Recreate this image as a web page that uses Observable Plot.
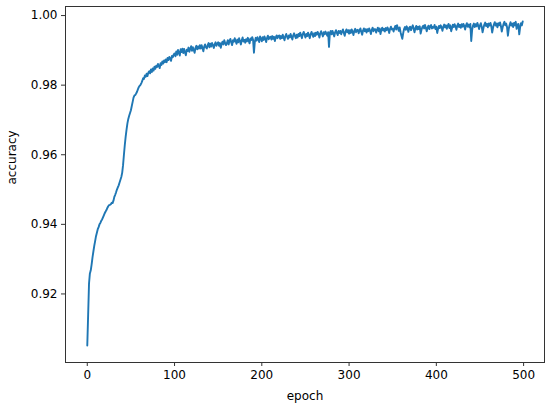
<!DOCTYPE html>
<html>
<head>
<meta charset="utf-8">
<script src="https://cdn.jsdelivr.net/npm/d3@7"></script>
<script src="https://cdn.jsdelivr.net/npm/@observablehq/plot@0.6"></script>
<style>
  html, body { margin: 0; padding: 0; background: #fff; }
  #chart svg { display: block; }
</style>
</head>
<body>
<div id="chart"></div>
<script>
// accuracy per epoch (epochs 0..499)
const accuracy = [
  0.9052, 0.9140, 0.9230, 0.9259, 0.9268, 0.9285, 0.9305, 0.9322, 0.9338, 0.9352,
  0.9366, 0.9376, 0.9386, 0.9392, 0.9400, 0.9404, 0.9410, 0.9414, 0.9420, 0.9426,
  0.9432, 0.9437, 0.9441, 0.9447, 0.9452, 0.9455, 0.9456, 0.9458, 0.9462, 0.9461,
  0.9468, 0.9479, 0.9485, 0.9492, 0.9500, 0.9506, 0.9512, 0.9520, 0.9528, 0.9536,
  0.9548, 0.9570, 0.9600, 0.9628, 0.9652, 0.9672, 0.9690, 0.9703, 0.9712, 0.9720,
  0.9728, 0.9740, 0.9752, 0.9764, 0.9770, 0.9772, 0.9776, 0.9781, 0.9788, 0.9794,
  0.9798, 0.9801, 0.9806, 0.9812, 0.9820, 0.9818, 0.9828, 0.9824, 0.9833, 0.9826,
  0.9836, 0.9840, 0.9834, 0.9845, 0.9838, 0.9848, 0.9842, 0.9853, 0.9847, 0.9856,
  0.9852, 0.9861, 0.9855, 0.9849, 0.9863, 0.9858, 0.9868, 0.9862, 0.9871, 0.9866,
  0.9874, 0.9866, 0.9878, 0.9872, 0.9881, 0.9876, 0.9870, 0.9884, 0.9880, 0.9888,
  0.9891, 0.9883, 0.9897, 0.9887, 0.9901, 0.9893, 0.9885, 0.9903, 0.9895, 0.9905,
  0.9892, 0.9904, 0.9894, 0.9886, 0.9902, 0.9898, 0.9908, 0.9896, 0.9904, 0.9912,
  0.9899, 0.9909, 0.9901, 0.9893, 0.9907, 0.9913, 0.9903, 0.9911, 0.9905, 0.9915,
  0.9905, 0.9915, 0.9907, 0.9897, 0.9911, 0.9917, 0.9909, 0.9905, 0.9915, 0.9921,
  0.9909, 0.9919, 0.9911, 0.9921, 0.9915, 0.9907, 0.9917, 0.9923, 0.9913, 0.9919,
  0.9923, 0.9913, 0.9921, 0.9907, 0.9919, 0.9925, 0.9917, 0.9929, 0.9921, 0.9915,
  0.9921, 0.9929, 0.9917, 0.9927, 0.9933, 0.9923, 0.9915, 0.9929, 0.9925, 0.9935,
  0.9927, 0.9919, 0.9931, 0.9923, 0.9935, 0.9927, 0.9917, 0.9929, 0.9937, 0.9925,
  0.9930, 0.9922, 0.9932, 0.9926, 0.9936, 0.9928, 0.9920, 0.9934, 0.9930, 0.9938,
  0.9930, 0.9893, 0.9924, 0.9936, 0.9928, 0.9938, 0.9932, 0.9924, 0.9940, 0.9934,
  0.9926, 0.9938, 0.9930, 0.9940, 0.9934, 0.9924, 0.9936, 0.9942, 0.9932, 0.9938,
  0.9939, 0.9931, 0.9941, 0.9933, 0.9939, 0.9927, 0.9937, 0.9943, 0.9935, 0.9941,
  0.9943, 0.9933, 0.9941, 0.9935, 0.9945, 0.9937, 0.9929, 0.9941, 0.9947, 0.9939,
  0.9933, 0.9943, 0.9937, 0.9947, 0.9939, 0.9931, 0.9943, 0.9949, 0.9941, 0.9935,
  0.9945, 0.9937, 0.9947, 0.9941, 0.9951, 0.9943, 0.9935, 0.9947, 0.9953, 0.9945,
  0.9937, 0.9947, 0.9941, 0.9951, 0.9943, 0.9935, 0.9947, 0.9953, 0.9945, 0.9939,
  0.9949, 0.9941, 0.9951, 0.9945, 0.9953, 0.9947, 0.9937, 0.9949, 0.9955, 0.9947,
  0.9940, 0.9952, 0.9946, 0.9954, 0.9948, 0.9942, 0.9952, 0.9910, 0.9950, 0.9956,
  0.9946, 0.9956, 0.9948, 0.9940, 0.9952, 0.9958, 0.9950, 0.9944, 0.9956, 0.9950,
  0.9956, 0.9946, 0.9954, 0.9960, 0.9950, 0.9942, 0.9954, 0.9960, 0.9952, 0.9958,
  0.9948, 0.9958, 0.9950, 0.9960, 0.9954, 0.9944, 0.9956, 0.9962, 0.9952, 0.9958,
  0.9959, 0.9949, 0.9957, 0.9963, 0.9953, 0.9945, 0.9957, 0.9963, 0.9955, 0.9961,
  0.9951, 0.9961, 0.9955, 0.9963, 0.9957, 0.9947, 0.9959, 0.9965, 0.9955, 0.9961,
  0.9961, 0.9951, 0.9959, 0.9965, 0.9955, 0.9963, 0.9947, 0.9959, 0.9965, 0.9957,
  0.9962, 0.9954, 0.9964, 0.9958, 0.9966, 0.9960, 0.9950, 0.9962, 0.9968, 0.9960,
  0.9962, 0.9954, 0.9964, 0.9970, 0.9960, 0.9972, 0.9964, 0.9956, 0.9966, 0.9952,
  0.9942, 0.9933, 0.9949, 0.9961, 0.9967, 0.9959, 0.9969, 0.9963, 0.9953, 0.9965,
  0.9968, 0.9958, 0.9966, 0.9972, 0.9962, 0.9952, 0.9964, 0.9970, 0.9960, 0.9968,
  0.9961, 0.9969, 0.9948, 0.9959, 0.9967, 0.9971, 0.9963, 0.9973, 0.9965, 0.9955,
  0.9965, 0.9971, 0.9961, 0.9969, 0.9973, 0.9963, 0.9967, 0.9965, 0.9973, 0.9961,
  0.9968, 0.9950, 0.9962, 0.9970, 0.9964, 0.9972, 0.9966, 0.9956, 0.9968, 0.9974,
  0.9966, 0.9972, 0.9962, 0.9970, 0.9976, 0.9964, 0.9972, 0.9955, 0.9964, 0.9974,
  0.9967, 0.9975, 0.9969, 0.9959, 0.9971, 0.9977, 0.9967, 0.9973, 0.9965, 0.9975,
  0.9968, 0.9976, 0.9970, 0.9960, 0.9972, 0.9978, 0.9968, 0.9974, 0.9966, 0.9976,
  0.9927, 0.9958, 0.9971, 0.9977, 0.9967, 0.9975, 0.9969, 0.9979, 0.9971, 0.9961,
  0.9972, 0.9978, 0.9968, 0.9952, 0.9964, 0.9974, 0.9980, 0.9970, 0.9976, 0.9966,
  0.9977, 0.9971, 0.9979, 0.9969, 0.9951, 0.9965, 0.9975, 0.9981, 0.9971, 0.9977,
  0.9966, 0.9978, 0.9972, 0.9980, 0.9970, 0.9954, 0.9966, 0.9976, 0.9982, 0.9972,
  0.9977, 0.9967, 0.9942, 0.9962, 0.9973, 0.9981, 0.9971, 0.9977, 0.9967, 0.9979,
  0.9972, 0.9982, 0.9962, 0.9974, 0.9976, 0.9946, 0.9966, 0.9978, 0.9972, 0.9983
];
const epochs = accuracy.map((_, i) => i);
const xTicks = [0, 100, 200, 300, 400, 500];
const yTicks = [0.92, 0.94, 0.96, 0.98, 1.00];
const xLabel = "epoch";
const yLabel = "accuracy";

const data = epochs.map((e, i) => ({epoch: e, accuracy: accuracy[i]}));

const chart = Plot.plot({
  width: 550,
  height: 409,
  marginLeft: 65,
  marginRight: 6,
  marginTop: 6,
  marginBottom: 47,
  style: {fontFamily: "DejaVu Sans", fontSize: "12px", color: "#000", background: "#fff"},
  x: {domain: [-24.95, 523.95]},
  y: {domain: [0.9003, 1.0026]},
  marks: [
    Plot.axisX(xTicks, {tickSize: 4, tickPadding: 4, fontSize: 12, label: null, stroke: "#333"}),
    Plot.axisY(yTicks, {tickSize: 4, tickPadding: 4, fontSize: 12, label: null, tickFormat: d3.format(".2f"), stroke: "#333"}),
    Plot.line(data, {x: "epoch", y: "accuracy", stroke: "#1f77b4", strokeWidth: 1.9, strokeLinejoin: "round"}),
    Plot.frame({stroke: "#333", strokeWidth: 1}),
    Plot.text([xLabel], {frameAnchor: "bottom", dy: 37, fontSize: 12, fill: "#000"}),
    Plot.text([yLabel], {frameAnchor: "left", dx: -53, rotate: -90, fontSize: 12, fill: "#000"})
  ]
});
document.getElementById("chart").appendChild(chart);
</script>
</body>
</html>
